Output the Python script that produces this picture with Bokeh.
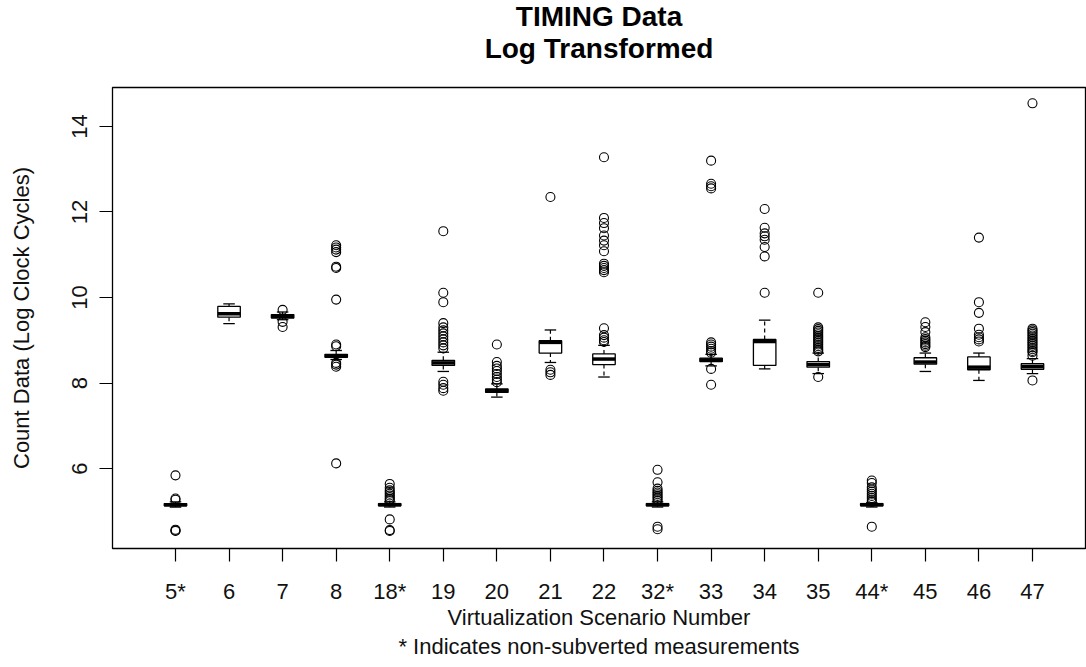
from bokeh.plotting import figure
from bokeh.models import Range1d, FixedTicker, Title
from bokeh.embed import file_html
from bokeh.resources import INLINE

labels = ["5*", "6", "7", "8", "18*", "19", "20", "21", "22", "32*",
          "33", "34", "35", "44*", "45", "46", "47"]
whisk_lo = [5.10, 9.39, 9.48, 8.55, 5.10, 8.27, 7.67, 8.48, 8.14, 5.10,
            8.40, 8.33, 8.22, 5.10, 8.27, 8.06, 8.22]
q1 = [5.13, 9.54, 9.52, 8.60, 5.13, 8.41, 7.78, 8.70, 8.43, 5.13,
      8.50, 8.41, 8.37, 5.13, 8.44, 8.31, 8.32]
med = [5.155, 9.62, 9.56, 8.63, 5.155, 8.47, 7.82, 8.95, 8.56, 5.155,
       8.54, 8.97, 8.43, 5.155, 8.49, 8.37, 8.38]
q3 = [5.18, 9.79, 9.60, 8.67, 5.18, 8.53, 7.86, 8.99, 8.68, 5.18,
      8.58, 9.02, 8.50, 5.18, 8.59, 8.61, 8.45]
whisk_hi = [5.22, 9.85, 9.66, 8.76, 5.22, 8.72, 7.98, 9.24, 8.88, 5.22,
            8.67, 9.47, 8.70, 5.20, 8.70, 8.70, 8.57]

out_5s = [5.84, 5.30, 5.27, 4.57, 4.55, 4.54]
out_6 = []
out_7 = [9.71, 9.43, 9.31]
out_8 = [11.22, 11.17, 11.12, 11.06, 10.72, 10.69, 9.95, 8.90, 8.86, 8.47, 8.43, 8.38, 6.12]
out_18s = [5.64, 5.55, 5.49, 5.45, 5.41, 5.37, 5.33, 5.29, 5.26, 4.81, 4.56, 4.54]
out_19 = [11.55, 10.11, 9.89, 9.40, 9.30, 9.23, 9.16, 9.09, 9.02, 8.95, 8.88, 8.81,
          8.03, 7.96, 7.88, 7.82]
out_20 = [8.90, 8.49, 8.40, 8.34, 8.28, 8.21, 8.14, 8.08, 8.02]
out_21 = [12.35, 8.31, 8.25, 8.19]
out_22 = [13.28, 11.86, 11.74, 11.62, 11.45, 11.33, 11.22, 11.08, 10.79, 10.74, 10.69,
          10.64, 10.59, 9.28, 9.12, 9.06, 9.00, 8.96]
out_32s = [5.97, 5.68, 5.53, 5.48, 5.44, 5.40, 5.36, 5.32, 5.28, 5.24, 4.64, 4.58]
out_33 = [13.20, 12.66, 12.60, 12.55, 8.95, 8.90, 8.85, 8.80, 8.75, 8.71, 8.33, 7.96]
out_34 = [12.07, 11.63, 11.50, 11.43, 11.35, 11.18, 10.96, 10.11]
out_35 = [10.11, 9.30, 9.26, 9.22, 9.18, 9.14, 9.10, 9.06, 9.02, 8.98, 8.94, 8.90, 8.86,
          8.82, 8.78, 8.74, 8.14]
out_44s = [5.72, 5.66, 5.56, 5.51, 5.46, 5.41, 5.36, 5.31, 5.26, 5.22, 4.64]
out_45 = [9.42, 9.31, 9.19, 9.07, 9.03, 8.99, 8.95, 8.91, 8.87, 8.84]
out_46 = [11.40, 9.89, 9.64, 9.27, 9.13, 9.07, 9.02, 8.97]
out_47 = [14.54, 9.27, 9.23, 9.19, 9.15, 9.11, 9.07, 9.03, 8.99, 8.95, 8.91, 8.87, 8.83,
          8.79, 8.75, 8.72, 8.64, 8.06]

outliers = [out_5s, out_6, out_7, out_8, out_18s, out_19, out_20, out_21, out_22,
            out_32s, out_33, out_34, out_35, out_44s, out_45, out_46, out_47]

y_ticks = [6, 8, 10, 12, 14]

FONT = "Liberation Sans"
BOX_W = 0.42

xs = list(range(1, len(labels) + 1))
ox, oy = [], []
for x, vals in zip(xs, outliers):
    ox += [x] * len(vals)
    oy += vals

p = figure(width=1086, height=662, output_backend="svg", toolbar_location=None,
           x_range=Range1d(-0.176, 17.99), y_range=Range1d(4.13, 14.91),
           min_border_left=112, min_border_right=1, min_border_top=87,
           min_border_bottom=114)
p.background_fill_color = "white"
p.border_fill_color = "white"
p.outline_line_color = "black"
p.outline_line_width = 1.3
p.grid.visible = False

# whiskers (dashed)
p.segment(x0=xs, y0=q3, x1=xs, y1=whisk_hi, line_color="black", line_width=1.2,
          line_dash="4 3")
p.segment(x0=xs, y0=q1, x1=xs, y1=whisk_lo, line_color="black", line_width=1.2,
          line_dash="4 3")
# staples
p.scatter(x=xs, y=whisk_hi, marker="dash", size=11.5, line_color="black", line_width=1.3)
p.scatter(x=xs, y=whisk_lo, marker="dash", size=11.5, line_color="black", line_width=1.3)
# boxes
p.vbar(x=xs, width=BOX_W, bottom=q1, top=q3, fill_color="white",
       line_color="black", line_width=1.3)
# medians
p.rect(x=xs, y=med, width=BOX_W, height=3.5, height_units="screen",
       fill_color="black", line_color=None)
# outliers
p.scatter(x=ox, y=oy, marker="circle", size=9, fill_color=None,
          line_color="black", line_width=1.1)

# axes
for ax in (p.xaxis[0], p.yaxis[0]):
    ax.axis_line_color = None
    ax.major_tick_line_color = "black"
    ax.major_tick_line_width = 1.2
    ax.major_tick_out = 13
    ax.major_tick_in = 0
    ax.minor_tick_line_color = None
    ax.major_label_text_font = FONT
    ax.major_label_text_font_size = "22px"
    ax.major_label_text_color = "#111111"
    ax.axis_label_text_font = FONT
    ax.axis_label_text_font_size = "22px"
    ax.axis_label_text_font_style = "normal"
    ax.axis_label_text_color = "#111111"

p.xaxis.ticker = FixedTicker(ticks=xs)
p.xaxis.major_label_overrides = {x: lab for x, lab in zip(xs, labels)}
p.xaxis.major_label_standoff = 17
p.xaxis.axis_label = "Virtualization Scenario Number"
p.xaxis.axis_label_standoff = -2

p.yaxis.ticker = FixedTicker(ticks=y_ticks)
p.yaxis.major_label_orientation = "vertical"
p.yaxis.major_label_standoff = 12
p.yaxis.axis_label = "Count Data (Log Clock Cycles)"
p.yaxis.axis_label_standoff = 36

note = Title(text="* Indicates non-subverted measurements", align="center",
             text_font=FONT, text_font_size="22px", text_font_style="normal",
             text_color="#111111", standoff=-2)
p.add_layout(note, "below")

sub = Title(text="Log Transformed", align="center", text_font=FONT,
            text_font_size="28px", text_font_style="bold", text_color="black",
            standoff=48)
main = Title(text="TIMING Data", align="center", text_font=FONT,
             text_font_size="28px", text_font_style="bold", text_color="black",
             standoff=-50)
p.add_layout(sub, "above")
p.add_layout(main, "above")

open("out.html", "w").write(file_html(p, INLINE))
